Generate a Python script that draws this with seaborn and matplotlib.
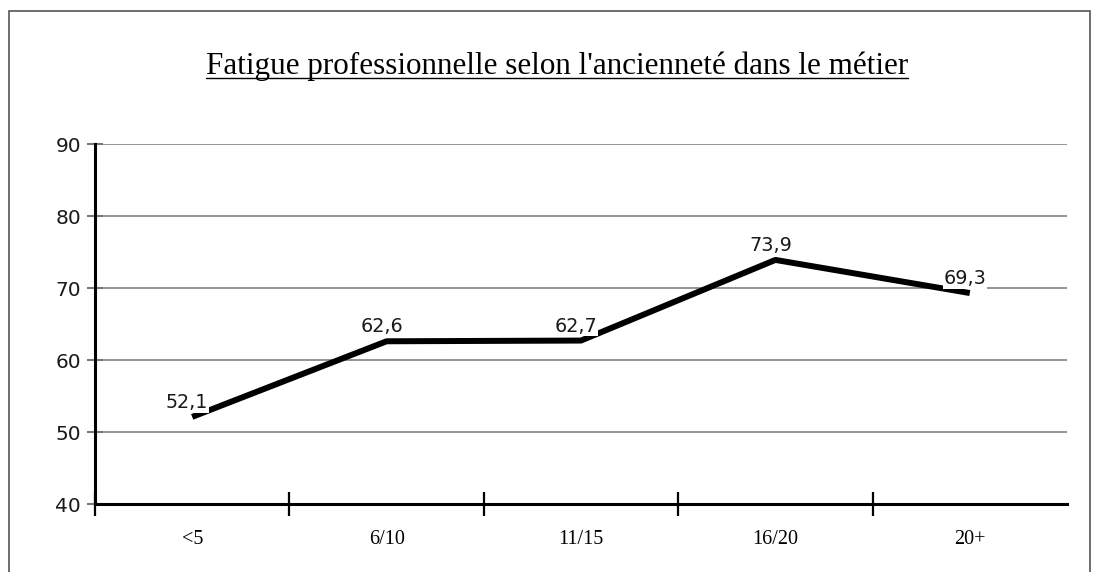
import matplotlib
matplotlib.use("Agg")
import matplotlib.pyplot as plt
import seaborn as sns
import pandas as pd
from matplotlib.lines import Line2D
from matplotlib.patches import Rectangle

categories = ["<5", "6/10", "11/15", "16/20", "20+"]
values = [52.1, 62.6, 62.7, 73.9, 69.3]
labels = ["52,1", "62,6", "62,7", "73,9", "69,3"]
title = "Fatigue professionnelle selon l'ancienneté dans le métier"

sns.set_theme(style="white")
plt.rcParams["font.family"] = ["DejaVu Sans"]

W, H = 1098, 572
fig = plt.figure(figsize=(W / 100, H / 100), dpi=100)
fig.patch.set_facecolor("white")
ax = fig.add_axes([95 / W, 1 - 504 / H, (1067 - 95) / W, (504 - 144) / H])

df = pd.DataFrame({"cat": categories, "val": values})
sns.lineplot(data=df, x="cat", y="val", ax=ax, color="black", linewidth=4.3,
             sort=False, solid_capstyle="butt", zorder=2)

ax.set_xlim(-0.5, 4.5)
ax.set_ylim(40, 90)
ax.set_yticks([40, 50, 60, 70, 80, 90])
ax.set_xticks(range(5))
ax.set_xticks([i - 0.5 for i in range(5)], minor=True)
ax.set_xlabel("")
ax.set_ylabel("")
ax.tick_params(axis="x", which="major", length=0, pad=19)
ax.tick_params(axis="x", which="minor", direction="inout", length=17,
               width=1.6, color="black", bottom=True)
ax.tick_params(axis="y", which="major", direction="inout", length=12,
               width=1.5, color="#777777", left=True, pad=4)
ax.set_yticklabels(["40", "50", "60", "70", "80", "90"])
ax.set_xticklabels(categories)
for lab in ax.get_yticklabels():
    lab.set_fontsize(14.5)
    lab.set_family("DejaVu Sans")
    lab.set_color("#1a1a1a")
for lab in ax.get_xticklabels():
    lab.set_fontsize(14.5)
    lab.set_family("Liberation Serif")
    lab.set_color("black")

for y in [50, 60, 70, 80, 90]:
    ax.axhline(y, color="#808080", linewidth=1.2, zorder=0)

for s in ["top", "right"]:
    ax.spines[s].set_visible(False)
for s in ["left", "bottom"]:
    ax.spines[s].set_color("black")
    ax.spines[s].set_linewidth(2.2)
    ax.spines[s].set_zorder(3)

for i, (v, t) in enumerate(zip(values, labels)):
    ax.annotate(t, (i, v), xytext=(-5, 9), textcoords="offset pixels",
                ha="center", va="baseline", fontsize=13.8,
                family="DejaVu Sans", color="#1a1a1a",
                bbox=dict(facecolor="white", edgecolor="none", pad=0.5),
                zorder=4)

# title with underline
tt = fig.text(557 / W, 1 - 66 / H, title, ha="center", va="center",
              fontsize=22.4, family="Liberation Serif", color="black")
fig.canvas.draw()
bb = tt.get_window_extent(renderer=fig.canvas.get_renderer())
uy = (bb.y0 + 3) / H
fig.add_artist(Line2D([bb.x0 / W, bb.x1 / W], [uy, uy], color="black",
                      linewidth=1.0, transform=fig.transFigure))

# figure border
fig.add_artist(Rectangle((9 / W, -0.1), (1090 - 9) / W, 1 - 11 / H + 0.1,
                         transform=fig.transFigure, fill=False,
                         edgecolor="#555555", linewidth=1.2))

fig.savefig("out.png", dpi=100, facecolor="white")
